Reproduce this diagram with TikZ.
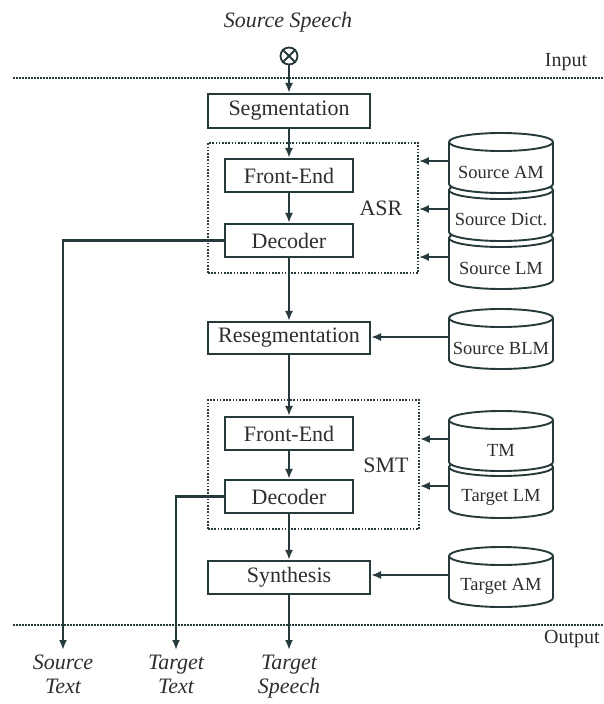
\documentclass[tikz,border=0pt]{standalone}
\usepackage{fontspec}
\setmainfont{Liberation Serif}
\usetikzlibrary{arrows.meta}
\definecolor{ink}{HTML}{26393B}
\definecolor{inktext}{HTML}{2E2E2E}
\begin{document}
\begin{tikzpicture}
[x=1pt,y=1pt,
  blockbox/.style={draw=ink,line width=2.1pt,fill=white,inner sep=0pt,
    minimum height=33pt,text=inktext,font=\fontsize{22}{24}\selectfont},%
  widebox/.style={blockbox,minimum width=162pt},%
  narrowbox/.style={blockbox,minimum width=128pt},%
  groupbox/.style={draw=ink,line width=1.7pt,dash pattern=on 1.6pt off 1.6pt,inner sep=0pt},%
  grouplabel/.style={text=inktext,font=\fontsize{22}{24}\selectfont},%
  dbtext/.style={text=inktext,font=\fontsize{18.5}{20}\selectfont},%
  dbline/.style={draw=ink,line width=1.9pt},%
  flow/.style={-{Latex[length=10pt,width=8pt]},draw=ink,line width=2.1pt},%
  sepline/.style={draw=ink,line width=1.7pt,dash pattern=on 1.5pt off 1.5pt},%
  iolabel/.style={text=inktext,font=\fontsize{20}{22}\selectfont},%
  outlabel/.style={text=inktext,align=center,inner xsep=1pt,inner ysep=5pt,anchor=north,
    font=\fontsize{22}{24}\selectfont\itshape}]
\useasboundingbox (0,0) rectangle (603,-704);
%% input / output separators
\draw[sepline] (13,-78) -- (603,-78);
\draw[sepline] (13,-625) -- (603,-625);
\node[iolabel] (inlbl) at (566,-62) {Input};
\node[iolabel] (outlbl) at (572,-639) {Output};
%% source speech
\node[outlabel,anchor=center] (srcspeech) at (288,-22) {Source Speech};
\node[circle,draw=ink,line width=1.8pt,minimum size=17pt,inner sep=0pt] (mix) at (289,-56) {};
\draw[ink,line width=1.8pt] (mix.north east) -- (mix.south west) (mix.north west) -- (mix.south east);
%% group boxes
\node[groupbox,minimum width=210pt,minimum height=130pt] (asr) at (313,-208) {};
\node[groupbox,minimum width=211pt,minimum height=129pt] (smt) at (313.5,-464.5) {};
\node[grouplabel] (asrlbl) at (381,-208) {ASR};
\node[grouplabel] (smtlbl) at (386,-465) {SMT};
%% processing blocks
\node[widebox,minimum height=34pt] (seg) at (289,-111) {Segmentation};
\node[narrowbox] (asrfe) at (289,-175.5) {Front-End};
\node[narrowbox] (asrdec) at (289,-240.5) {Decoder};
\node[widebox,minimum height=32pt] (reseg) at (289,-338) {Resegmentation};
\node[narrowbox] (smtfe) at (289,-433.5) {Front-End};
\node[narrowbox] (smtdec) at (289,-496.5) {Decoder};
\node[widebox] (synth) at (289,-577.5) {Synthesis};
%% knowledge sources (drawn bottom first)
\foreach \name/\c/\txt in {slm/238/Source LM, sdict/190/Source Dict., sam/142/Source AM,
  blm/318/Source BLM, tlm/467/Target LM, tm/420/TM, tam/556/Target AM} {
  \filldraw[dbline,fill=white] (449,-\c) -- (449,-\c-42)
    arc[start angle=180,end angle=360,x radius=52,y radius=9] -- (553,-\c)
    arc[start angle=0,end angle=180,x radius=52,y radius=9] -- cycle;
  \draw[dbline] (449,-\c) arc[start angle=180,end angle=360,x radius=52,y radius=9];
  \node[dbtext] (\name) at (501,-\c-30) {\txt};
  \coordinate (\name-in) at (449,-\c-19);
}
%% outputs
\node[outlabel] (stext) at (63,-650) {Source\\Text};
\node[outlabel] (ttext) at (176,-650) {Target\\Text};
\node[outlabel] (tspeech) at (289,-650) {Target\\Speech};
%% main flow
\draw[flow] (mix) -- (seg);
\draw[flow] (seg) -- (asrfe);
\draw[flow] (asrfe) -- (asrdec);
\draw[flow] (asrdec) -- (reseg);
\draw[flow] (reseg) -- (smtfe);
\draw[flow] (smtfe) -- (smtdec);
\draw[flow] (smtdec) -- (synth);
\draw[flow] (synth) -- (tspeech);
\draw[flow] (asrdec.west) -| (stext.north);
\draw[flow] (smtdec.west) -| (ttext.north);
%% knowledge inputs
\foreach \name/\target in {sam/asr, sdict/asr, slm/asr, blm/reseg, tm/smt, tlm/smt, tam/synth} {
  \draw[flow] (\name-in) -- (\name-in -| \target.east);
}
\end{tikzpicture}
\end{document}
